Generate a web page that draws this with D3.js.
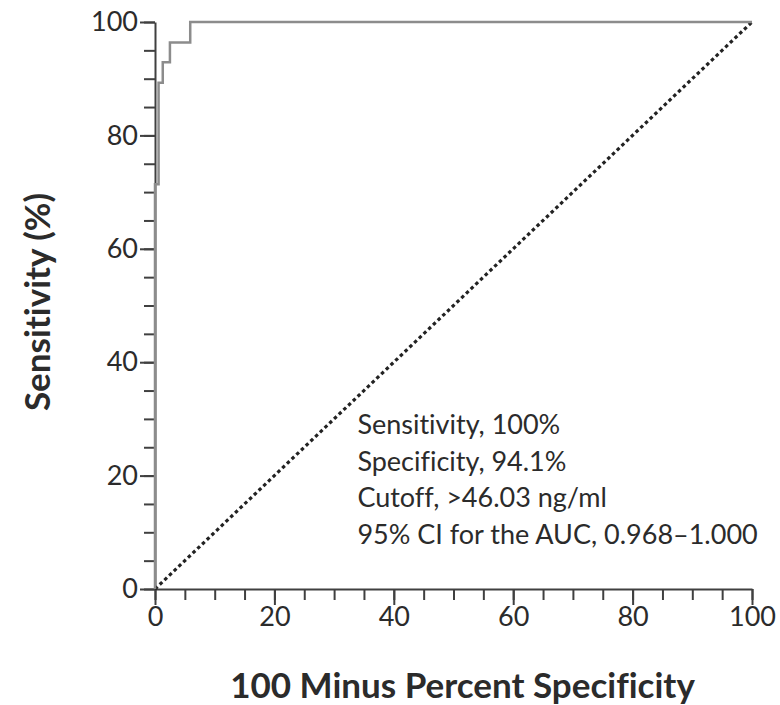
<!DOCTYPE html>
<html>
<head>
<meta charset="utf-8">
<script src="https://cdn.jsdelivr.net/npm/d3@7"></script>
<style>
  body { margin: 0; background: #fff; }
  text { font-family: Lato, "Open Sans", sans-serif; fill: #2b2b2b; font-variant-ligatures: none; }
</style>
</head>
<body>
<svg id="chart"></svg>
<script>
// ROC curve step points (100 - specificity, sensitivity)
var fpr = [0, 0, 0.6, 1.3, 2.5, 5.9, 100]
var sens = [0, 71.4, 89.3, 92.9, 96.4, 100, 100]

var majorTicks = [0, 20, 40, 60, 80, 100]
var minorTicks = d3.range(0, 101, 5)

var notes = [
  'Sensitivity, 100%',
  'Specificity, 94.1%',
  'Cutoff, >46.03 ng/ml',
  '95% CI for the AUC, 0.968\u20131.000'
]

var width = 780
var height = 705
var margin = { top: 22, right: 28, bottom: 116, left: 155 }

var svg = d3.select('#chart')
  .attr('width', width)
  .attr('height', height)

var x = d3.scaleLinear().domain([0, 100]).range([margin.left, width - margin.right])
var y = d3.scaleLinear().domain([0, 100]).range([height - margin.bottom, margin.top])

var axisColor = '#404040'

// minor ticks first, then major ones on top
var xMinor = d3.axisBottom(x).tickValues(minorTicks).tickSize(11).tickFormat('')
var yMinor = d3.axisLeft(y).tickValues(minorTicks).tickSize(11).tickFormat('')

svg.append('g')
  .attr('transform', 'translate(0,' + y(0) + ')')
  .call(xMinor)
  .call(g => g.select('.domain').remove())
  .call(g => g.selectAll('line').attr('stroke', axisColor).attr('stroke-width', 2))

svg.append('g')
  .attr('transform', 'translate(' + x(0) + ',0)')
  .call(yMinor)
  .call(g => g.select('.domain').remove())
  .call(g => g.selectAll('line').attr('stroke', axisColor).attr('stroke-width', 2))

var xAxis = d3.axisBottom(x).tickValues(majorTicks).tickSize(16).tickPadding(2).tickSizeOuter(0)
var yAxis = d3.axisLeft(y).tickValues(majorTicks).tickSize(15).tickPadding(2).tickSizeOuter(0)

svg.append('g')
  .attr('transform', 'translate(0,' + y(0) + ')')
  .call(xAxis)
  .call(g => g.selectAll('line, .domain').attr('stroke', axisColor).attr('stroke-width', 2))
  .call(g => g.selectAll('text').attr('font-size', 27).attr('fill', '#2b2b2b'))

svg.append('g')
  .attr('transform', 'translate(' + x(0) + ',0)')
  .call(yAxis)
  .call(g => g.selectAll('line, .domain').attr('stroke', axisColor).attr('stroke-width', 2))
  .call(g => g.selectAll('text').attr('font-size', 27).attr('fill', '#2b2b2b'))

// chance diagonal
svg.append('line')
  .attr('x1', x(0)).attr('y1', y(0))
  .attr('x2', x(100)).attr('y2', y(100))
  .attr('stroke', '#222')
  .attr('stroke-width', 3.2)
  .attr('stroke-dasharray', '3.5,3')

// ROC curve
var line = d3.line()
  .x(d => x(d[0]))
  .y(d => y(d[1]))
  .curve(d3.curveStepAfter)

svg.append('path')
  .datum(d3.zip(fpr, sens))
  .attr('d', line)
  .attr('fill', 'none')
  .attr('stroke', '#8c8c8c')
  .attr('stroke-width', 2.5)

// annotation block
svg.append('g')
  .selectAll('text')
  .data(notes)
  .join('text')
  .attr('x', x(33.9))
  .attr('y', (d, i) => 434 + i * 36.5)
  .attr('font-size', 27)
  .text(d => d)

// axis titles
svg.append('text')
  .attr('x', (x(0) + x(100)) / 2 + 9)
  .attr('y', 698)
  .attr('text-anchor', 'middle')
  .attr('font-size', 35)
  .attr('font-weight', 'bold')
  .text('100 Minus Percent Specificity')

svg.append('text')
  .attr('transform', 'translate(50,' + 302 + ') rotate(-90)')
  .attr('text-anchor', 'middle')
  .attr('font-size', 35)
  .attr('font-weight', 'bold')
  .text('Sensitivity (%)')
</script>
</body>
</html>
